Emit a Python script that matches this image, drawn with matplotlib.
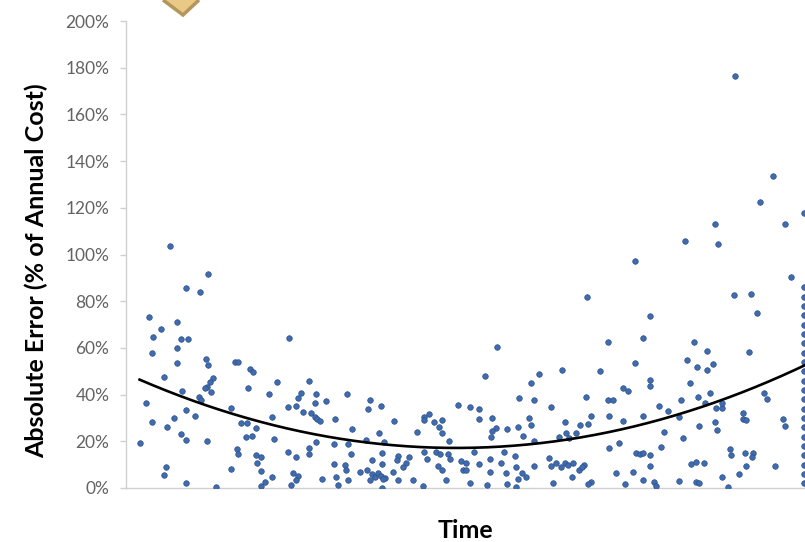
import numpy as np
import matplotlib
matplotlib.use("Agg")
import matplotlib.pyplot as plt
from matplotlib.patches import Polygon
from matplotlib.ticker import PercentFormatter

# time index (0-100 across the visible axis) and absolute error (% of annual cost)
time_idx = [
    3.4, 7.5, 5.2, 4.0, 8.1, 9.2, 7.5, 3.8, 7.5, 11.8, 12.1, 16.0, 16.5, 18.2, 18.7, 24.0,
    5.6, 12.8, 12.3, 12.0, 11.6, 12.5, 22.2, 17.9, 21.0, 8.2, 10.7, 11.0, 2.9, 23.8, 15.5, 8.8,
    10.2, 7.0, 21.5, 3.9, 16.9, 17.8, 6.1, 19.1, 8.1, 8.8, 17.7, 18.5, 21.8, 11.9, 2.0, 16.3,
    16.5, 23.8, 19.1, 19.9, 19.3, 5.9, 5.6, 15.5, 19.9, 21.5, 20.4, 19.9, 8.9, 13.3, 24.6, 24.3,
    6.5, 12.1, 8.8, 10.9,
    26.9, 25.8, 25.3, 25.0, 28.0, 27.8, 29.4, 32.6, 35.9, 35.7, 37.6, 26.1, 27.3, 27.8, 28.2, 28.6,
    30.8, 39.4, 43.9, 44.6, 43.9, 45.4, 46.5, 46.1, 46.5, 48.9, 33.3, 42.8, 37.3, 35.3, 38.0, 28.0,
    30.7, 32.7, 47.6, 27.0, 26.9, 37.7, 33.2, 40.0, 39.9, 41.7, 41.2, 43.9, 44.3, 45.7, 46.3, 47.4,
    47.7, 49.4, 49.6, 36.3, 37.7, 25.0, 30.7, 32.2, 32.4, 45.9, 46.5, 40.8, 34.4, 35.5, 36.3, 36.7,
    37.1, 37.6, 38.2, 35.9, 37.8, 39.3, 28.9, 30.9, 31.2, 32.7, 40.0, 42.2, 43.7, 47.2, 37.7, 25.3,
    25.0,
    54.6, 71.0, 52.8, 60.8, 59.7, 64.2, 69.8, 57.9, 60.1, 62.6, 67.8, 71.0, 71.7, 73.2, 73.9, 74.9,
    50.7, 52.0, 52.0, 53.9, 54.5, 53.9, 53.8, 56.1, 57.8, 59.3, 59.7, 58.5, 64.6, 68.5, 68.0, 66.8,
    71.2, 73.2, 63.8, 64.8, 66.3, 65.3, 72.6, 71.2, 60.1, 51.2, 55.6, 50.1, 50.1, 50.6, 52.0, 53.6,
    53.6, 55.2, 55.9, 57.3, 57.5, 58.3, 58.9, 57.8, 60.1, 53.1, 56.1, 57.4, 62.3, 62.6, 63.3, 64.1,
    64.6, 65.1, 65.9, 66.7, 67.4, 67.2, 62.9, 65.7, 68.5, 68.0, 72.1, 73.5, 74.6, 67.9, 75.0,
    77.1, 93.0, 76.1, 83.6, 85.5, 91.7, 82.6, 84.1, 85.5, 86.4, 77.1, 77.1, 83.1, 86.0, 84.3, 85.2,
    81.7, 94.0, 94.4, 78.5, 79.8, 86.9, 87.8, 87.8, 76.1, 81.4, 90.8, 90.8, 91.3, 96.7, 97.0, 84.4,
    86.7, 87.1, 79.3, 82.1, 78.8, 75.1, 75.7, 76.1, 77.1, 88.9, 89.1, 91.2, 92.3, 92.2, 83.2, 84.0,
    85.1, 77.1, 91.3, 95.6, 90.3, 87.8, 76.1, 77.8, 78.1, 81.5, 84.0, 84.4, 88.6,
    82.4, 86.7, 87.2, 93.4, 95.3, 97.1, 99.9, 97.9, 89.6, 92.0, 89.7,
    99.8, 99.8, 99.8, 99.8, 99.8, 99.8, 99.8, 99.8, 99.8, 99.8, 99.8, 99.8, 99.8, 99.8, 99.8, 99.8,
    99.8, 99.8, 99.8, 99.8, 99.8, 99.8,
]
abs_error = [
    73.4, 71.0, 68.0, 64.8, 63.7, 63.7, 59.8, 58.0, 53.7, 55.1, 52.7, 54.1, 54.1, 50.8, 49.6, 64.4,
    47.4, 47.0, 45.5, 43.1, 42.7, 41.2, 45.3, 42.7, 40.1, 41.7, 39.1, 37.7, 36.5, 34.6, 34.1, 33.4,
    30.8, 29.9, 30.3, 28.4, 28.0, 28.0, 26.3, 25.6, 23.1, 20.6, 21.7, 22.3, 21.0, 20.1, 19.1, 16.7,
    14.6, 15.5, 14.1, 13.4, 10.6, 9.1, 5.6, 8.1, 7.4, 4.6, 2.7, 0.9, 2.3, 0.6, 6.3, 1.3,
    103.8, 91.5, 85.8, 84.1,
    46.0, 40.8, 38.4, 35.1, 40.1, 36.5, 37.4, 40.3, 37.7, 33.8, 35.2, 32.7, 32.0, 30.5, 29.6, 28.8,
    29.4, 28.8, 30.3, 31.6, 29.1, 28.4, 29.1, 26.3, 23.7, 35.5, 25.3, 23.9, 23.4, 20.6, 19.8, 19.8,
    18.8, 18.8, 20.1, 17.0, 14.6, 14.9, 14.6, 13.7, 12.0, 13.4, 10.6, 15.5, 12.3, 15.5, 14.6, 14.6,
    12.3, 11.7, 7.7, 12.0, 10.2, 13.4, 10.3, 9.9, 7.7, 9.4, 7.7, 9.1, 7.0, 7.7, 6.0, 4.8,
    6.3, 5.1, 4.2, 3.4, 3.7, 7.0, 3.7, 4.8, 1.3, 3.4, 3.4, 3.4, 0.9, 3.4, 0.1, 5.1,
    3.4,
    60.3, 62.4, 48.0, 48.8, 45.1, 50.5, 50.1, 38.7, 37.7, 34.6, 39.1, 37.7, 37.7, 42.7, 41.7, 53.4,
    34.8, 33.7, 29.4, 29.9, 25.8, 24.5, 22.0, 25.1, 26.3, 29.9, 27.0, 22.3, 28.4, 30.8, 27.3, 27.0,
    30.8, 28.8, 22.0, 23.4, 23.7, 21.3, 19.4, 17.3, 20.3, 15.5, 15.5, 10.6, 7.7, 2.0, 10.3, 12.3,
    7.0, 10.8, 6.6, 13.7, 9.1, 6.6, 4.8, 3.7, 9.6, 1.3, 1.6, 0.6, 13.0, 9.6, 10.6, 9.1,
    10.6, 9.9, 10.6, 7.7, 9.9, 9.1, 2.0, 4.8, 2.7, 1.6, 6.6, 1.7, 7.0, 81.9, 97.2,
    73.8, 74.8, 64.1, 62.4, 58.7, 58.4, 54.8, 51.7, 50.5, 53.1, 46.3, 43.7, 44.8, 40.8, 39.1, 36.3,
    37.7, 40.8, 38.1, 35.1, 33.0, 34.1, 34.1, 36.3, 30.8, 30.3, 32.0, 29.4, 29.1, 29.4, 26.6, 26.7,
    28.4, 24.8, 24.1, 21.5, 17.7, 14.9, 14.6, 15.1, 14.1, 16.6, 14.1, 14.9, 15.1, 13.4, 10.3, 11.3,
    10.6, 9.6, 9.6, 9.6, 6.0, 4.8, 3.4, 2.7, 0.9, 3.0, 2.7, 2.0, 0.6,
    105.9, 112.9, 104.6, 122.6, 133.8, 112.9, 117.7, 90.5, 82.7, 83.0, 176.5,
    86, 82, 78, 74, 70, 66, 62, 58, 54, 50, 46, 42, 38, 34, 30, 26,
    22, 18, 14, 10, 6, 2,
]

# points
trend_t = [2.0, 24.6, 37.3, 50.1, 62.3, 75.1, 87.4, 100.0]
trend_pct = [46.5, 24.8, 18.8, 17.2, 19.8, 26.8, 37.0, 52.7]

yticks = list(range(0, 201, 20))

fig = plt.figure(figsize=(8.05, 5.42), dpi=100)
ax = fig.add_axes([126 / 805, 1 - 488 / 542, 679 / 805, 467 / 542])

ax.scatter(time_idx, abs_error, s=16, color="#3F6CB0", edgecolors="#2E4F86",
           linewidths=0.5, zorder=3)

coef = np.polyfit(trend_t, trend_pct, 2)
tt = np.linspace(trend_t[0], trend_t[-1], 200)
ax.plot(tt, np.polyval(coef, tt), color="black", linewidth=1.9, zorder=4)

ax.set_xlim(0, 100)
ax.set_ylim(0, 200)
ax.set_yticks(yticks)
ax.yaxis.set_major_formatter(PercentFormatter(decimals=0))
ax.set_xticks([])

for s in ["top", "right"]:
    ax.spines[s].set_visible(False)
for s in ["left", "bottom"]:
    ax.spines[s].set_color("#D0D0D0")
    ax.spines[s].set_linewidth(1.0)

ax.tick_params(axis="y", length=4, width=1, color="#D0D0D0",
               labelsize=12.5, labelcolor="#636363", pad=8)
for lab in ax.get_yticklabels():
    lab.set_family("Lato")

ax.set_ylabel("Absolute Error (% of Annual Cost)", fontsize=18, fontweight="bold",
              family="Lato")
ax.yaxis.set_label_coords(-0.115, 0.465)
ax.set_xlabel("Time", fontsize=18, fontweight="bold", family="Lato", labelpad=22)

# tan callout corner peeking in at the top
corner = Polygon([(163 / 805, 1.0), (183 / 805, 1 - 15 / 542), (199 / 805, 1.0)],
                 closed=False, transform=fig.transFigure, facecolor="#E9C985",
                 edgecolor="#B3965C", linewidth=2.5, clip_on=False)
fig.patches.append(corner)

fig.savefig("out.png", dpi=100)
